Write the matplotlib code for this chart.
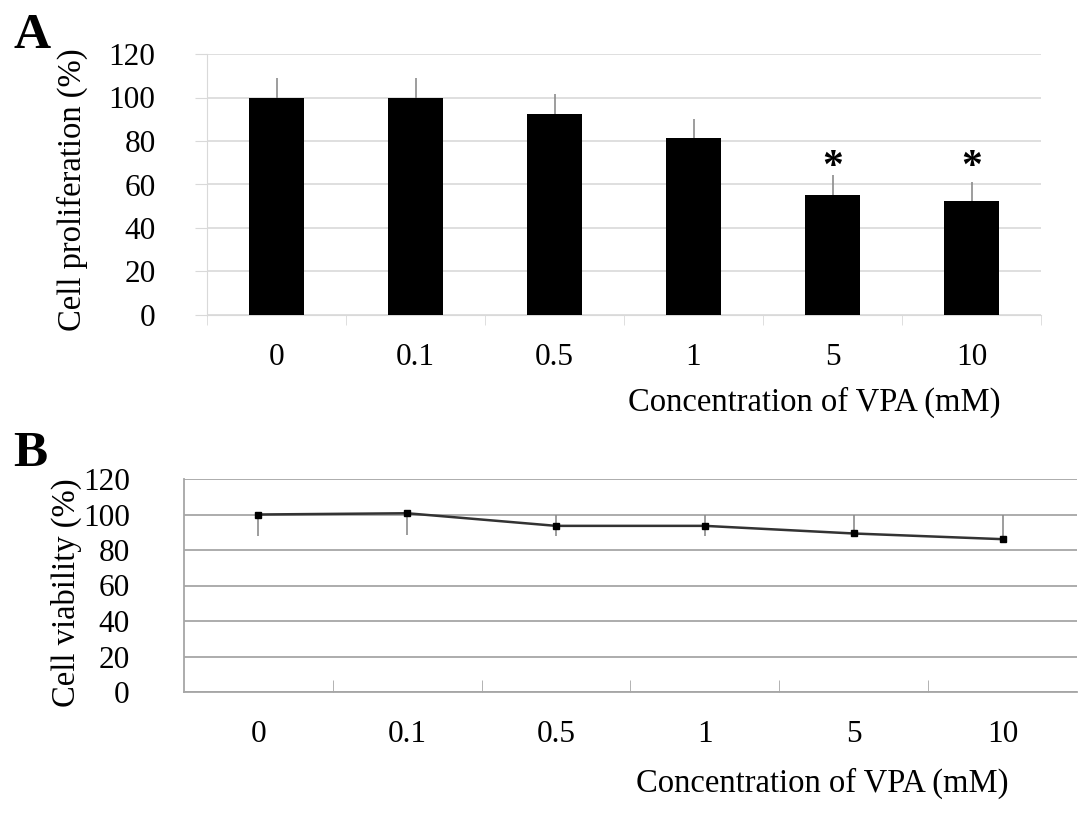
import matplotlib.pyplot as plt
import numpy as np

plt.rcParams['font.family'] = ['Liberation Serif', 'DejaVu Serif']

# data
conc = ['0', '0.1', '0.5', '1', '5', '10']
prolif = [100, 100, 92.4, 81.2, 55.3, 52.6]
prolif_err = [9, 9, 9, 9, 9, 8.7]
signif = [False, False, False, False, True, True]
star_y = 63

viab = [100, 100.7, 93.6, 93.6, 89.3, 86.1]
viab_err_lo = [12, 12.5, 5.6, 5.6, 0, 0]
viab_err_hi = [0, 0, 6.4, 6.4, 10.7, 13.9]

W, H = 1087, 816
fig = plt.figure(figsize=(W / 100, H / 100), dpi=100)

def px_box(l, t, r, b):
    return [l / W, 1 - b / H, (r - l) / W, (b - t) / H]

x = np.arange(len(conc))
bounds = np.arange(len(conc) + 1) - 0.5

#%% panel A - bars
axA = fig.add_axes(px_box(207, 54, 1041, 315))
axA.bar(x, prolif, width=0.4, color='black', zorder=3)
axA.errorbar(x, prolif, yerr=[np.zeros(len(x)), prolif_err], fmt='none',
             ecolor='#8c8c8c', elinewidth=1.2, capsize=0, zorder=2)
for i, s in enumerate(signif):
    if s:
        axA.text(x[i], star_y, '*', ha='center', va='baseline',
                 fontsize=30, fontweight='bold')
axA.set_xlim(-0.5, 5.5)
axA.set_ylim(0, 120)
axA.set_yticks(np.arange(0, 121, 20))
axA.yaxis.grid(True, color='#d9d9d9', lw=1.2, zorder=0)
axA.set_axisbelow(True)
for s in ['top', 'right']:
    axA.spines[s].set_visible(False)
axA.spines['left'].set_color('#d9d9d9')
axA.spines['bottom'].set_color('#d9d9d9')
axA.set_xticks(x)
axA.set_xticklabels(conc)
axA.set_xticks(bounds, minor=True)
axA.tick_params(axis='x', which='major', length=0, pad=20, labelsize=22.5)
axA.tick_params(axis='x', which='minor', length=7, color='#d9d9d9', direction='out')
axA.tick_params(axis='y', length=9, color='#d9d9d9', pad=28, labelsize=22.5)
for lab in axA.get_yticklabels():
    lab.set_horizontalalignment('right')

fig.text(72 / W, 1 - 190 / H, 'Cell proliferation (%)', rotation=90,
         ha='center', va='center', fontsize=23.5)
fig.text(1000 / W, 1 - 402 / H, 'Concentration of VPA (mM)', ha='right',
         va='center', fontsize=23.5)
fig.text(13 / W, 1 - 48 / H, 'A', fontsize=37, fontweight='bold', va='baseline')

#%% panel B - line
axB = fig.add_axes(px_box(184, 479, 1077, 692))
axB.errorbar(x, viab, yerr=[viab_err_lo, viab_err_hi], fmt='none',
             ecolor='#8c8c8c', elinewidth=1.2, capsize=0, zorder=2)
axB.plot(x, viab, '-s', color='#333333', lw=1.8, ms=4.5, mfc='black', mec='black',
         zorder=3)
axB.set_xlim(-0.5, 5.5)
axB.set_ylim(0, 120)
axB.set_yticks(np.arange(0, 121, 20))
axB.yaxis.grid(True, color='#a6a6a6', lw=1.3, zorder=0)
axB.set_axisbelow(True)
for s in ['top', 'right']:
    axB.spines[s].set_visible(False)
axB.spines['left'].set_color('#a6a6a6')
axB.spines['bottom'].set_color('#a6a6a6')
axB.spines['left'].set_linewidth(1.3)
axB.spines['bottom'].set_linewidth(1.3)
axB.set_xticks(x)
axB.set_xticklabels(conc)
axB.set_xticks(bounds[1:-1], minor=True)
axB.tick_params(axis='x', which='major', length=0, pad=20, labelsize=22.5)
axB.tick_params(axis='x', which='minor', length=9, color='#a6a6a6', direction='in')
axB.tick_params(axis='y', length=0, pad=39, labelsize=22.5)
for lab in axB.get_yticklabels():
    lab.set_horizontalalignment('right')

fig.text(66 / W, 1 - 593 / H, 'Cell viability (%)', rotation=90,
         ha='center', va='center', fontsize=23.5)
fig.text(1008 / W, 1 - 783 / H, 'Concentration of VPA (mM)', ha='right',
         va='center', fontsize=23.5)
fig.text(13 / W, 1 - 466 / H, 'B', fontsize=37, fontweight='bold', va='baseline')

fig.savefig('out.png', dpi=100)
